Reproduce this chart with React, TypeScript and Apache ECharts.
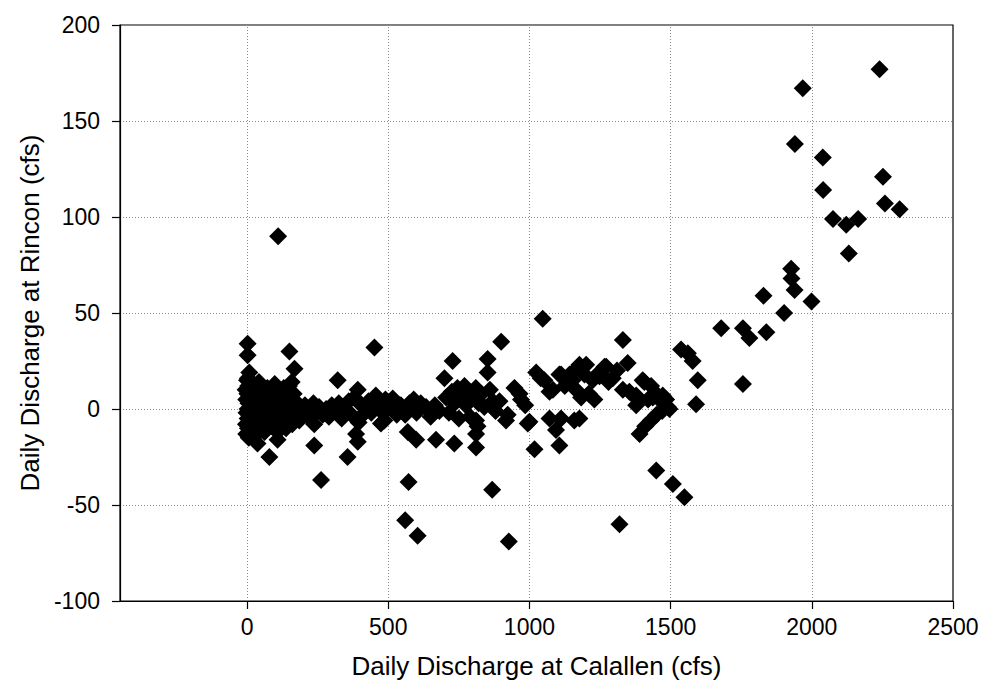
import React, { useEffect, useRef } from "react";
import * as echarts from "echarts";

const lowFlow: [number, number][] = [
  [-5, 10], [-3, 5], [-2, -2], [-4, -8], [-3, -13], [0, 15], [1, 8], [2, 0], [2, -5], [3, -10],
  [4, 12], [5, 3], [6, -15], [8, 19], [8, -3], [2, 28], [2, 34], [10, 6], [12, -8], [14, 14], [15, -12],
  [3, 16], [6, -12], [18, 9], [26, -9], [42, 14], [50, -7], [58, 9], [65, -4], [72, 11], [88, -9],
  [98, 13], [115, -11], [122, 9], [138, -10], [148, 12],
  [20, 2], [22, -6], [25, 10], [28, -14], [30, 5], [35, -3], [37, -18], [40, 8], [45, -10], [48, 0],
  [52, 12], [55, -5], [60, 3], [62, -12], [68, 7], [70, -2], [75, -8], [79, -25], [80, 4],
  [85, -4], [90, 6], [95, -10], [100, 1], [105, 9], [108, -16], [110, 90], [112, -3], [118, 4], [125, -7],
  [130, 11], [135, -1], [140, 6], [145, -5], [150, 30], [152, 2], [158, 14], [160, -8], [165, 8], [168, 21],
  [172, -3], [178, 3], [185, -6], [190, 1], [198, -2],
  [205, 2], [215, -4], [225, 0], [235, 3], [238, -8], [238, -19], [245, -2], [255, 1], [262, -37], [268, -3],
  [280, 0], [290, -4], [300, 2], [310, -1], [321, 15], [325, 3], [335, -5], [345, 0], [356, -25], [360, 4],
  [370, -3], [380, 6], [386, -13], [392, 10], [392, -17], [395, -7], [405, 2], [410, -3], [420, 0], [430, 4],
  [440, -2], [451, 32], [456, 7], [465, 3], [474, -7.5], [480, -2], [486, -6], [490, 5],
];

const midFlow: [number, number][] = [
  [500, 1], [516, 5.5], [530, -3], [540, 2], [545, 2], [560, -3], [560, -58], [569, -12], [572, -38], [575, 3],
  [590, 5], [599, -16], [600, -2], [604, -66], [615, 3], [634, 1], [650, -4], [665, 2], [669, -16], [681, -1],
  [699, 16], [705, 6], [715, -2], [725, 9], [728, 25], [734, -18], [735, 3], [745, 11], [750, -5], [760, 7],
  [770, 12], [775, 2], [785, 9], [790, -4], [800, 6], [810, 11], [811, -6], [811, -13], [811, -20], [816, -9],
  [820, 3], [830, 8], [840, 1], [852, 19], [852, 26], [860, 10], [868, -42], [870, 4], [880, -1], [894, 4],
  [900, 35], [917, -6], [923, -3], [927, -69], [947, 11], [965, 8], [970, 5], [985, 2], [994, -7.5], [1000, -6.6],
  [1018, -21], [1024, 19], [1040, 16], [1047, 47], [1053, 15], [1071, 9], [1071, -5], [1083, 10], [1094, -11], [1106, -19],
  [1106, 18], [1112, 18], [1112, -5], [1125, 12], [1142, 18], [1153, 19], [1153, 15], [1159, -6], [1165, 10], [1177, 23],
  [1177, -5], [1183, 6], [1195, 18], [1201, 23], [1210, 8], [1224, 15], [1230, 5], [1240, 18], [1248, 17], [1266, 22],
  [1272, 22], [1280, 14], [1295, 16], [1310, 20], [1319, -60], [1331, 36], [1331, 10], [1348, 24], [1354, 9], [1378, 7],
  [1383, 5], [1378, 2], [1390, -13], [1401, 15], [1407, 14], [1410, -9], [1420, 5], [1430, -6], [1431, 12], [1437, 6],
  [1449, 8], [1450, -3], [1449, -32], [1460, 5], [1470, -1], [1472, 7], [1484, 5], [1490, 1], [1496, 0],
];

const highFlow: [number, number][] = [
  [1508, -39], [1537, 31], [1549, -46], [1561, 29], [1578, 25], [1590, 2.5], [1596, 15], [1679, 42], [1756, 42], [1756, 13],
  [1779, 37], [1829, 59], [1839, 40], [1902, 50], [1927, 73], [1928, 68], [1939, 62], [1940, 138], [1968, 167], [1999, 56],
  [2039, 131], [2040, 114], [2075, 99], [2122, 96], [2131, 81], [2164, 99], [2240, 177], [2252, 121], [2259, 107], [2311, 104],
];

const xTickValues = [0, 500, 1000, 1500, 2000, 2500];
const xGridValues = [0, 500, 1000, 1500, 2000];
const xTitle = "Daily Discharge at Calallen (cfs)";
const yTitle = "Daily Discharge at Rincon (cfs)";

const FONT = "'Liberation Sans', Arial, sans-serif";

export default function App() {
  const ref = useRef<HTMLDivElement>(null);
  useEffect(() => {
    if (!ref.current) return;
    const chart = echarts.init(ref.current, undefined, { renderer: "svg" });
    const gridLine = { color: "#8a8a8a", type: [1, 2] as any, width: 1 };
    chart.setOption({
      animation: false,
      backgroundColor: "#ffffff",
      grid: { left: 120, right: 30, top: 25, bottom: 93, show: true, borderColor: "#000", borderWidth: 1.2, backgroundColor: "transparent" },
      xAxis: {
        type: "value",
        min: -450,
        max: 2500,
        name: xTitle,
        nameLocation: "middle",
        nameGap: 52,
        nameTextStyle: { fontFamily: FONT, fontSize: 26, color: "#000" },
        axisLine: { show: true, onZero: false, lineStyle: { color: "#000", width: 1.2 } },
        axisTick: { show: true, inside: false, length: 8, customValues: xTickValues, lineStyle: { color: "#000", width: 1.2 } },
        axisLabel: {
          customValues: xTickValues,
          formatter: (v: number) => String(v),
          fontFamily: FONT,
          fontSize: 23,
          color: "#000",
          margin: 14,
        },
        splitLine: { show: false },
      },
      yAxis: {
        type: "value",
        min: -100,
        max: 200,
        interval: 50,
        name: yTitle,
        nameLocation: "middle",
        nameGap: 68,
        nameTextStyle: { fontFamily: FONT, fontSize: 26, color: "#000" },
        axisLine: { show: true, onZero: false, lineStyle: { color: "#000", width: 1.2 } },
        axisTick: { show: true, inside: false, length: 8, lineStyle: { color: "#000", width: 1.2 } },
        axisLabel: { formatter: (v: number) => String(v), fontFamily: FONT, fontSize: 23, color: "#000", margin: 20 },
        splitLine: { show: true, lineStyle: gridLine },
      },
      series: [
        {
          type: "scatter",
          symbol: "diamond",
          symbolSize: 18,
          itemStyle: { color: "#000", opacity: 1 },
          data: [...lowFlow, ...midFlow, ...highFlow],
          markLine: {
            silent: true,
            symbol: "none",
            label: { show: false },
            lineStyle: gridLine,
            z: 1,
            data: xGridValues.map((v) => ({ xAxis: v })),
          },
          z: 3,
        },
      ],
    });
    return () => chart.dispose();
  }, []);
  return <div ref={ref} style={{ position: "fixed", left: 0, top: 0, width: 983, height: 694 }} />;
}
